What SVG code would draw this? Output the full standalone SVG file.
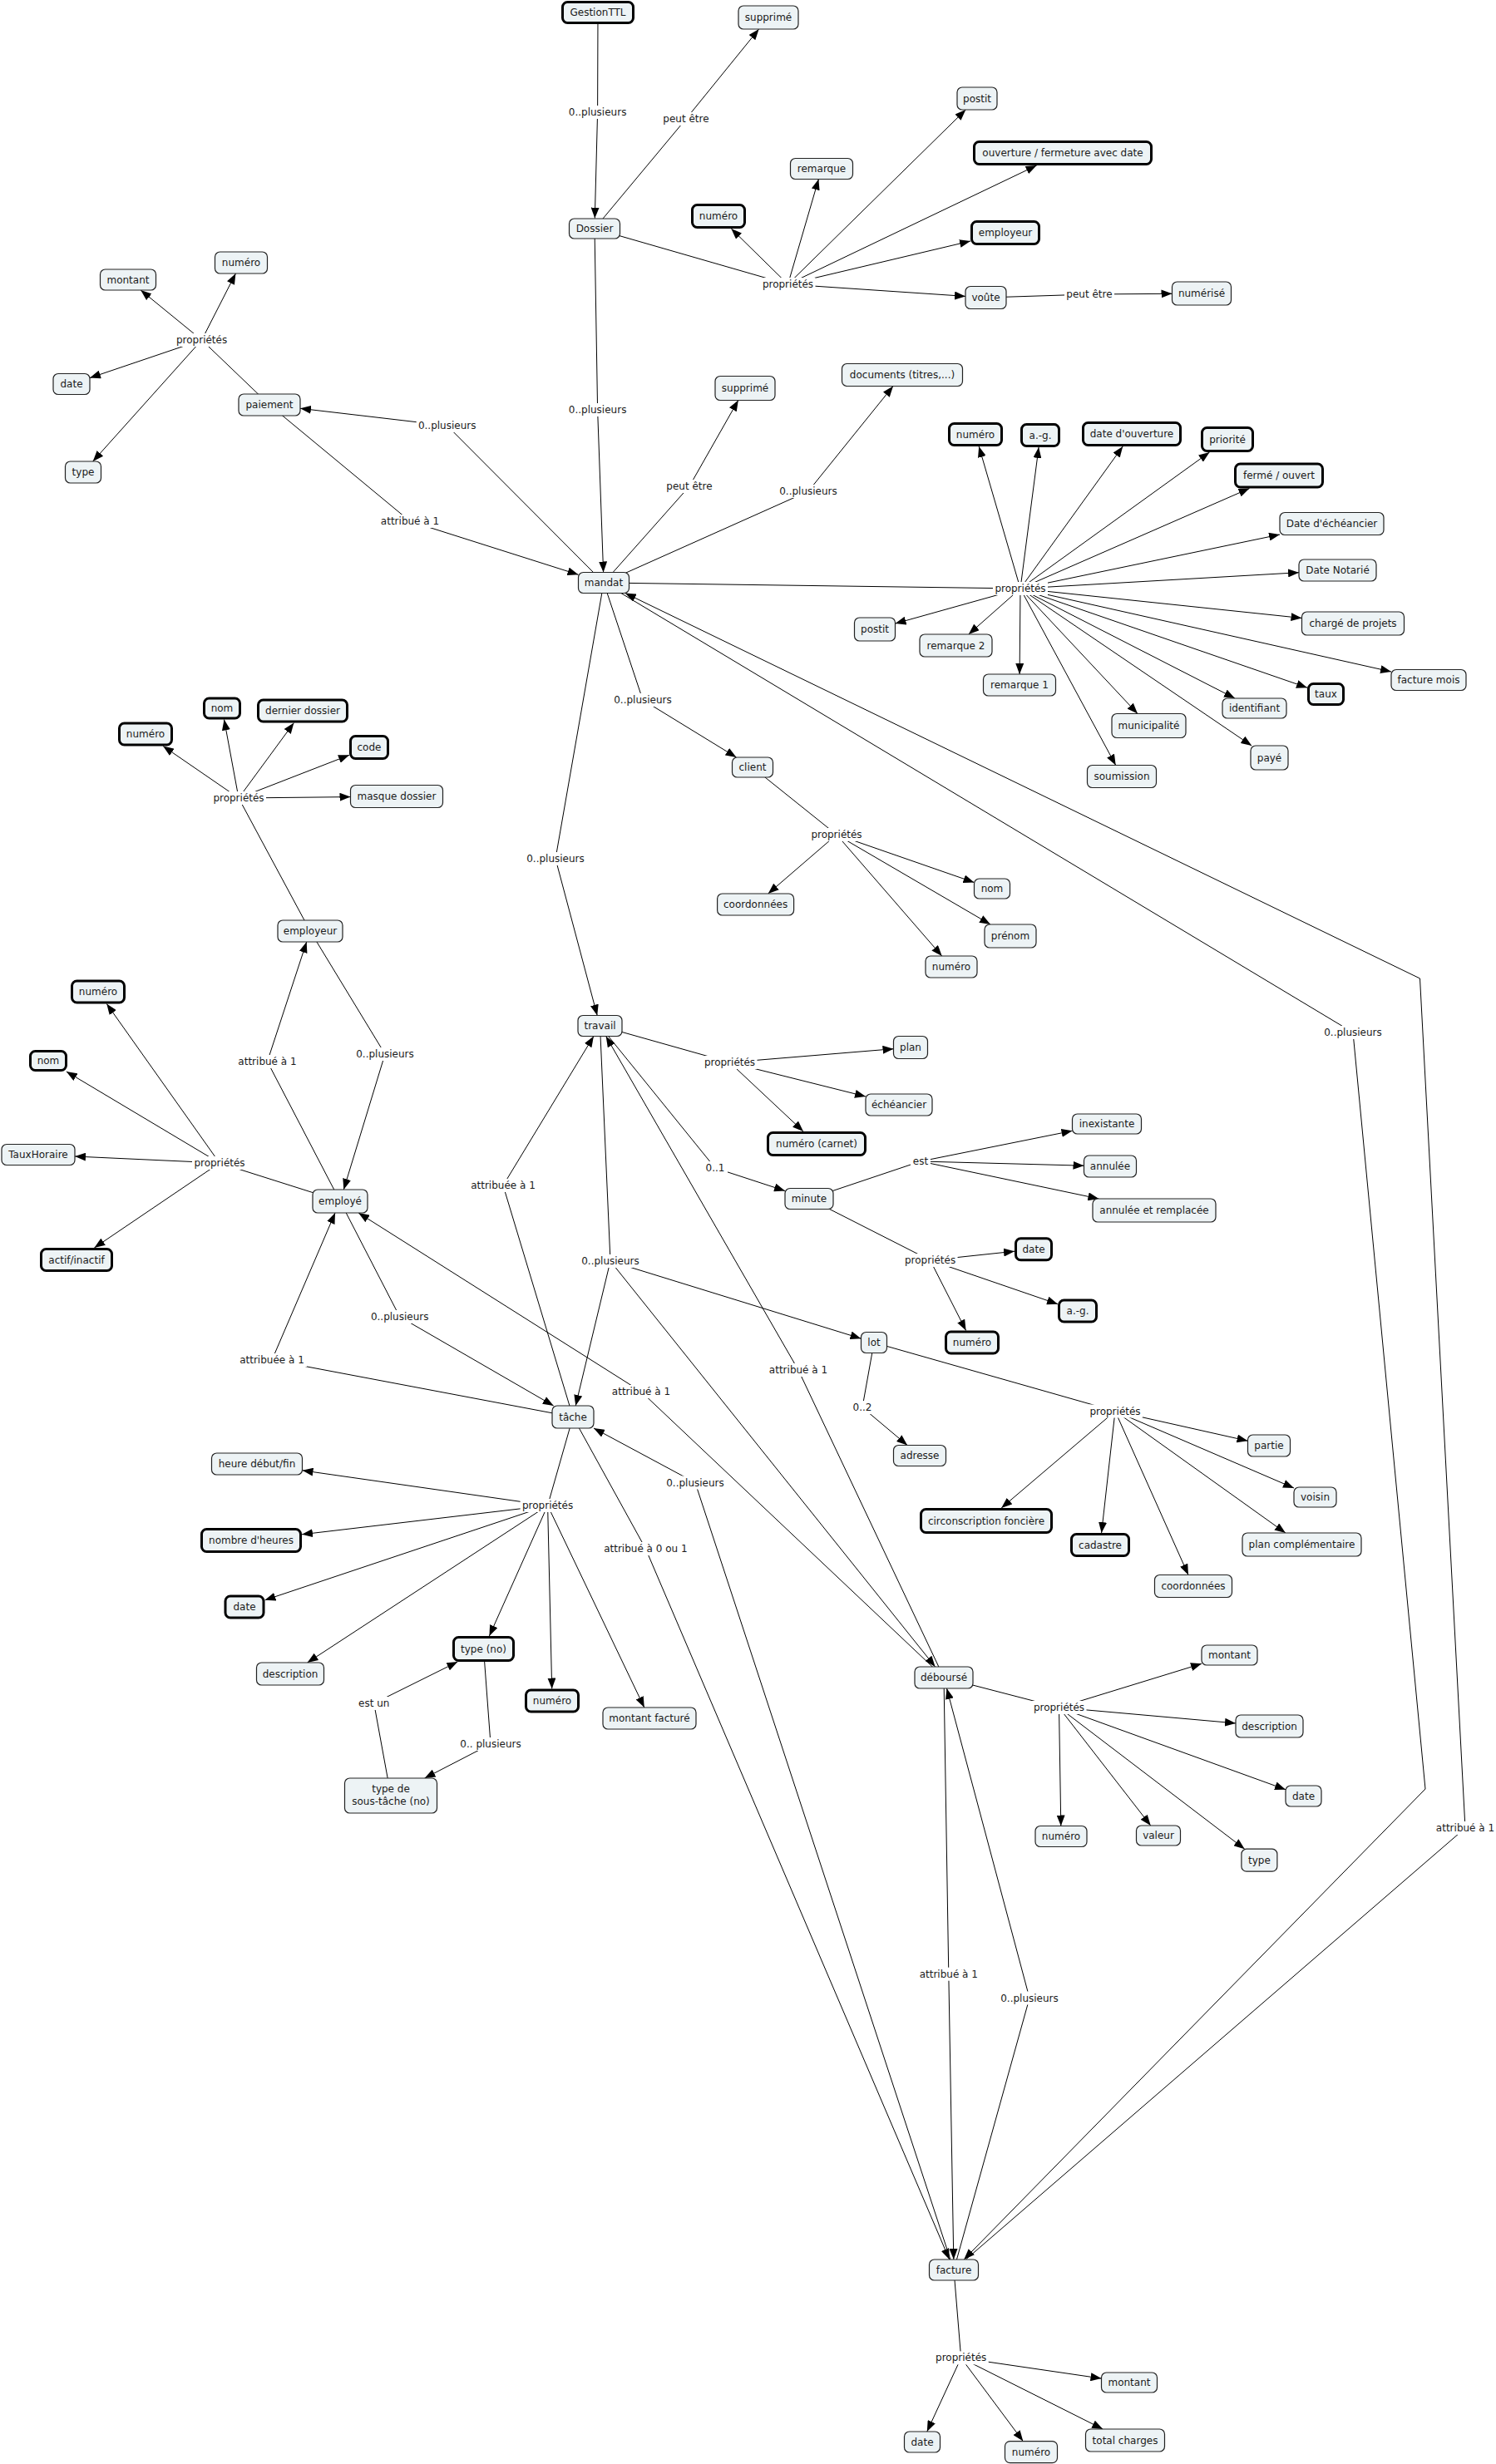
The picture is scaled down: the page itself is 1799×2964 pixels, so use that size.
<svg xmlns="http://www.w3.org/2000/svg" width="1799" height="2964" viewBox="0 0 1799 2964">
<defs>
<marker id="ah" markerUnits="userSpaceOnUse" markerWidth="13" markerHeight="10" viewBox="0 0 13 10" refX="13" refY="5" orient="auto"><path d="M0,0 L13,5 L0,10 z" fill="#000"/></marker>
<style>
.n rect{fill:#edf3f5;stroke:#222;stroke-width:1.2}
.n.k rect{stroke:#000;stroke-width:3}
text{font-family:"DejaVu Sans",Verdana,sans-serif;font-size:12px;fill:#1a1a1a;text-anchor:middle}
.c line,.c path{stroke:#000;stroke-width:1;fill:none}
.c .a{marker-end:url(#ah)}
.l rect{fill:#fff}
</style>
</defs>
<rect width="1799" height="2964" fill="#fff"/>
<g id="connectors" class="c">
<line x1="719" y1="15" x2="718.6" y2="135"/>
<line class="a" x1="718.6" y1="135" x2="715.3" y2="262.6"/>
<line x1="715" y1="275" x2="825" y2="143"/>
<line class="a" x1="825" y1="143" x2="912.6" y2="35"/>
<line x1="715" y1="275" x2="947.5" y2="342"/>
<line class="a" x1="947.5" y1="342" x2="879.3" y2="275"/>
<line class="a" x1="947.5" y1="342" x2="984.4" y2="215.5"/>
<line class="a" x1="947.5" y1="342" x2="1161.3" y2="132"/>
<line class="a" x1="947.5" y1="342" x2="1246.6" y2="199"/>
<line class="a" x1="947.5" y1="342" x2="1167" y2="290"/>
<line class="a" x1="947.5" y1="342" x2="1161" y2="356.4"/>
<line x1="1185.5" y1="358" x2="1310" y2="354"/>
<line class="a" x1="1310" y1="354" x2="1409.5" y2="353.3"/>
<line x1="715" y1="275" x2="718.6" y2="493"/>
<line class="a" x1="718.6" y1="493" x2="725.6" y2="688.5"/>
<line x1="726" y1="701" x2="829" y2="585"/>
<line class="a" x1="829" y1="585" x2="887.8" y2="481.5"/>
<line x1="726" y1="701" x2="972" y2="591"/>
<line class="a" x1="972" y1="591" x2="1074" y2="464.5"/>
<line x1="726" y1="701" x2="537.7" y2="512"/>
<line class="a" x1="537.7" y1="512" x2="361" y2="491.3"/>
<line x1="324" y1="487" x2="493" y2="627"/>
<line class="a" x1="493" y1="627" x2="695.5" y2="691.3"/>
<line x1="324" y1="487" x2="242.6" y2="409"/>
<line class="a" x1="242.6" y1="409" x2="169.2" y2="349"/>
<line class="a" x1="242.6" y1="409" x2="283.4" y2="329"/>
<line class="a" x1="242.6" y1="409" x2="108" y2="454.6"/>
<line class="a" x1="242.6" y1="409" x2="111.7" y2="555"/>
<line x1="726" y1="701" x2="1227" y2="708"/>
<line class="a" x1="1227" y1="708" x2="1177.2" y2="537"/>
<line class="a" x1="1227" y1="708" x2="1249.1" y2="538"/>
<line class="a" x1="1227" y1="708" x2="1350.2" y2="537"/>
<line class="a" x1="1227" y1="708" x2="1454.5" y2="544"/>
<line class="a" x1="1227" y1="708" x2="1502.5" y2="587.5"/>
<line class="a" x1="1227" y1="708" x2="1539" y2="643"/>
<line class="a" x1="1227" y1="708" x2="1562" y2="688.7"/>
<line class="a" x1="1227" y1="708" x2="1565.5" y2="743.5"/>
<line class="a" x1="1227" y1="708" x2="1673" y2="808"/>
<line class="a" x1="1227" y1="708" x2="1572" y2="827.2"/>
<line class="a" x1="1227" y1="708" x2="1485" y2="840"/>
<line class="a" x1="1227" y1="708" x2="1505.2" y2="897"/>
<line class="a" x1="1227" y1="708" x2="1368" y2="858.5"/>
<line class="a" x1="1227" y1="708" x2="1341.7" y2="920.5"/>
<line class="a" x1="1227" y1="708" x2="1226.1" y2="811"/>
<line class="a" x1="1227" y1="708" x2="1164.8" y2="763"/>
<line class="a" x1="1227" y1="708" x2="1076.5" y2="750.1"/>
<line x1="726" y1="701" x2="773" y2="842"/>
<line class="a" x1="773" y1="842" x2="885.5" y2="911"/>
<line x1="905" y1="923" x2="1006" y2="1004"/>
<line class="a" x1="1006" y1="1004" x2="923.7" y2="1075"/>
<line class="a" x1="1006" y1="1004" x2="1171.5" y2="1061.5"/>
<line class="a" x1="1006" y1="1004" x2="1191" y2="1112"/>
<line class="a" x1="1006" y1="1004" x2="1132.7" y2="1150"/>
<line x1="726" y1="701" x2="668" y2="1033"/>
<line class="a" x1="668" y1="1033" x2="718.2" y2="1221.5"/>
<line x1="726" y1="701" x2="1627" y2="1242"/>
<path class="a" d="M1627,1242 L1714,2152 L1159.2,2718"/>
<line x1="1147" y1="2730.5" x2="1762" y2="2199"/>
<path class="a" d="M1762,2199 L1707.5,1177 L751.8,713.5"/>
<line x1="373" y1="1120" x2="287" y2="960"/>
<line class="a" x1="287" y1="960" x2="196.1" y2="897.5"/>
<line class="a" x1="287" y1="960" x2="269.5" y2="865.5"/>
<line class="a" x1="287" y1="960" x2="353.4" y2="869.5"/>
<line class="a" x1="287" y1="960" x2="420" y2="908.3"/>
<line class="a" x1="287" y1="960" x2="421.5" y2="958.6"/>
<line x1="409" y1="1445" x2="321.5" y2="1277"/>
<line class="a" x1="321.5" y1="1277" x2="368.7" y2="1133"/>
<line x1="373" y1="1120" x2="463" y2="1268"/>
<line class="a" x1="463" y1="1268" x2="413.3" y2="1431"/>
<line x1="409" y1="1445" x2="264" y2="1399"/>
<line class="a" x1="264" y1="1399" x2="128.3" y2="1207.5"/>
<line class="a" x1="264" y1="1399" x2="79.8" y2="1289"/>
<line class="a" x1="264" y1="1399" x2="90" y2="1391"/>
<line class="a" x1="264" y1="1399" x2="113.4" y2="1501"/>
<line x1="721.5" y1="1234" x2="877.5" y2="1278"/>
<line class="a" x1="877.5" y1="1278" x2="1074.5" y2="1261.7"/>
<line class="a" x1="877.5" y1="1278" x2="1041" y2="1319"/>
<line class="a" x1="877.5" y1="1278" x2="966" y2="1361"/>
<line x1="721.5" y1="1234" x2="860" y2="1405"/>
<line class="a" x1="860" y1="1405" x2="944" y2="1432.5"/>
<line x1="973" y1="1442" x2="1107" y2="1397"/>
<line class="a" x1="1107" y1="1397" x2="1289.5" y2="1360.3"/>
<line class="a" x1="1107" y1="1397" x2="1303.5" y2="1402.2"/>
<line class="a" x1="1107" y1="1397" x2="1321.4" y2="1442"/>
<line x1="973" y1="1442" x2="1118.6" y2="1516"/>
<line class="a" x1="1118.6" y1="1516" x2="1220" y2="1505.2"/>
<line class="a" x1="1118.6" y1="1516" x2="1272" y2="1568.7"/>
<line class="a" x1="1118.6" y1="1516" x2="1161.6" y2="1600.5"/>
<line x1="721.5" y1="1234" x2="734" y2="1517"/>
<line class="a" x1="734" y1="1517" x2="692.2" y2="1691"/>
<line class="a" x1="734" y1="1517" x2="1035.5" y2="1610.2"/>
<line class="a" x1="734" y1="1517" x2="1124.6" y2="2005"/>
<line x1="689" y1="1704.5" x2="605" y2="1426"/>
<line class="a" x1="605" y1="1426" x2="713.9" y2="1246.5"/>
<line x1="409" y1="1445" x2="480.7" y2="1584"/>
<line class="a" x1="480.7" y1="1584" x2="665.7" y2="1691"/>
<line x1="689" y1="1704.5" x2="327" y2="1636"/>
<line class="a" x1="327" y1="1636" x2="403" y2="1459"/>
<line x1="1135" y1="2018" x2="771" y2="1674"/>
<line class="a" x1="771" y1="1674" x2="431.1" y2="1459"/>
<line x1="1135" y1="2018" x2="960" y2="1648"/>
<line class="a" x1="960" y1="1648" x2="728.7" y2="1246.5"/>
<line x1="1051" y1="1615" x2="1037" y2="1693"/>
<line class="a" x1="1037" y1="1693" x2="1091.1" y2="1738.5"/>
<line x1="1051" y1="1615" x2="1341" y2="1697.5"/>
<line class="a" x1="1341" y1="1697.5" x2="1204.2" y2="1814"/>
<line class="a" x1="1341" y1="1697.5" x2="1324.6" y2="1844"/>
<line class="a" x1="1341" y1="1697.5" x2="1429" y2="1894.5"/>
<line class="a" x1="1341" y1="1697.5" x2="1545.9" y2="1844"/>
<line class="a" x1="1341" y1="1697.5" x2="1556" y2="1790"/>
<line class="a" x1="1341" y1="1697.5" x2="1500.5" y2="1733.3"/>
<line x1="1147" y1="2730.5" x2="836" y2="1783.5"/>
<line class="a" x1="836" y1="1783.5" x2="714" y2="1718"/>
<line x1="689" y1="1704.5" x2="658.6" y2="1811"/>
<line class="a" x1="658.6" y1="1811" x2="363.5" y2="1768.8"/>
<line class="a" x1="658.6" y1="1811" x2="363" y2="1845.8"/>
<line class="a" x1="658.6" y1="1811" x2="318.5" y2="1924.8"/>
<line class="a" x1="658.6" y1="1811" x2="369.6" y2="2000"/>
<line class="a" x1="658.6" y1="1811" x2="588.4" y2="1968"/>
<line class="a" x1="658.6" y1="1811" x2="663.7" y2="2031.5"/>
<line class="a" x1="658.6" y1="1811" x2="774.8" y2="2054"/>
<line x1="689" y1="1704.5" x2="776.4" y2="1863"/>
<line class="a" x1="776.4" y1="1863" x2="1141.7" y2="2718"/>
<line x1="470" y1="2160" x2="449.7" y2="2049"/>
<line class="a" x1="449.7" y1="2049" x2="550.3" y2="1999"/>
<line x1="581.5" y1="1983.5" x2="590" y2="2098"/>
<line class="a" x1="590" y1="2098" x2="510.6" y2="2139"/>
<line x1="1135" y1="2018" x2="1273.5" y2="2054"/>
<line class="a" x1="1273.5" y1="2054" x2="1445" y2="2001.3"/>
<line class="a" x1="1273.5" y1="2054" x2="1486" y2="2072.9"/>
<line class="a" x1="1273.5" y1="2054" x2="1546" y2="2152.7"/>
<line class="a" x1="1273.5" y1="2054" x2="1275.8" y2="2196.5"/>
<line class="a" x1="1273.5" y1="2054" x2="1383.7" y2="2196"/>
<line class="a" x1="1273.5" y1="2054" x2="1496.7" y2="2224.2"/>
<line x1="1135" y1="2018" x2="1140.8" y2="2374.7"/>
<line class="a" x1="1140.8" y1="2374.7" x2="1146.8" y2="2718"/>
<line x1="1147" y1="2730.5" x2="1238" y2="2403.5"/>
<line class="a" x1="1238" y1="2403.5" x2="1138.5" y2="2031"/>
<line x1="1147" y1="2730.5" x2="1155.7" y2="2836.4"/>
<line class="a" x1="1155.7" y1="2836.4" x2="1114.8" y2="2925"/>
<line class="a" x1="1155.7" y1="2836.4" x2="1230.3" y2="2936.6"/>
<line class="a" x1="1155.7" y1="2836.4" x2="1326.2" y2="2922"/>
<line class="a" x1="1155.7" y1="2836.4" x2="1324.5" y2="2861.1"/>
</g>
<g id="labels" class="l">
<g><rect x="681.6" y="127" width="74" height="16"/><text x="718.6" y="139">0..plusieurs</text></g>
<g><rect x="795" y="135" width="60" height="16"/><text x="825" y="147">peut être</text></g>
<g><rect x="914.5" y="334" width="66" height="16"/><text x="947.5" y="346">propriétés</text></g>
<g><rect x="1280" y="346" width="60" height="16"/><text x="1310" y="358">peut être</text></g>
<g><rect x="681.6" y="485" width="74" height="16"/><text x="718.6" y="497">0..plusieurs</text></g>
<g><rect x="799" y="577" width="60" height="16"/><text x="829" y="589">peut être</text></g>
<g><rect x="935" y="583" width="74" height="16"/><text x="972" y="595">0..plusieurs</text></g>
<g><rect x="500.7" y="504" width="74" height="16"/><text x="537.7" y="516">0..plusieurs</text></g>
<g><rect x="455" y="619" width="76" height="16"/><text x="493" y="631">attribué à 1</text></g>
<g><rect x="209.6" y="401" width="66" height="16"/><text x="242.6" y="413">propriétés</text></g>
<g><rect x="1194" y="700" width="66" height="16"/><text x="1227" y="712">propriétés</text></g>
<g><rect x="736" y="834" width="74" height="16"/><text x="773" y="846">0..plusieurs</text></g>
<g><rect x="973" y="996" width="66" height="16"/><text x="1006" y="1008">propriétés</text></g>
<g><rect x="631" y="1025" width="74" height="16"/><text x="668" y="1037">0..plusieurs</text></g>
<g><rect x="1590" y="1234" width="74" height="16"/><text x="1627" y="1246">0..plusieurs</text></g>
<g><rect x="1724" y="2191" width="76" height="16"/><text x="1762" y="2203">attribué à 1</text></g>
<g><rect x="254" y="952" width="66" height="16"/><text x="287" y="964">propriétés</text></g>
<g><rect x="283.5" y="1269" width="76" height="16"/><text x="321.5" y="1281">attribué à 1</text></g>
<g><rect x="426" y="1260" width="74" height="16"/><text x="463" y="1272">0..plusieurs</text></g>
<g><rect x="231" y="1391" width="66" height="16"/><text x="264" y="1403">propriétés</text></g>
<g><rect x="844.5" y="1270" width="66" height="16"/><text x="877.5" y="1282">propriétés</text></g>
<g><rect x="845" y="1397" width="30" height="16"/><text x="860" y="1409">0..1</text></g>
<g><rect x="1095" y="1389" width="24" height="16"/><text x="1107" y="1401">est</text></g>
<g><rect x="1085.6" y="1508" width="66" height="16"/><text x="1118.6" y="1520">propriétés</text></g>
<g><rect x="697" y="1509" width="74" height="16"/><text x="734" y="1521">0..plusieurs</text></g>
<g><rect x="563" y="1418" width="84" height="16"/><text x="605" y="1430">attribuée à 1</text></g>
<g><rect x="443.7" y="1576" width="74" height="16"/><text x="480.7" y="1588">0..plusieurs</text></g>
<g><rect x="285" y="1628" width="84" height="16"/><text x="327" y="1640">attribuée à 1</text></g>
<g><rect x="733" y="1666" width="76" height="16"/><text x="771" y="1678">attribué à 1</text></g>
<g><rect x="922" y="1640" width="76" height="16"/><text x="960" y="1652">attribué à 1</text></g>
<g><rect x="1022" y="1685" width="30" height="16"/><text x="1037" y="1697">0..2</text></g>
<g><rect x="1308" y="1689.5" width="66" height="16"/><text x="1341" y="1701.5">propriétés</text></g>
<g><rect x="799" y="1775.5" width="74" height="16"/><text x="836" y="1787.5">0..plusieurs</text></g>
<g><rect x="625.6" y="1803" width="66" height="16"/><text x="658.6" y="1815">propriétés</text></g>
<g><rect x="723.4" y="1855" width="106" height="16"/><text x="776.4" y="1867">attribué à 0 ou 1</text></g>
<g><rect x="428.7" y="2041" width="42" height="16"/><text x="449.7" y="2053">est un</text></g>
<g><rect x="549" y="2090" width="82" height="16"/><text x="590" y="2102">0.. plusieurs</text></g>
<g><rect x="1240.5" y="2046" width="66" height="16"/><text x="1273.5" y="2058">propriétés</text></g>
<g><rect x="1102.8" y="2366.7" width="76" height="16"/><text x="1140.8" y="2378.7">attribué à 1</text></g>
<g><rect x="1201" y="2395.5" width="74" height="16"/><text x="1238" y="2407.5">0..plusieurs</text></g>
<g><rect x="1122.7" y="2828.4" width="66" height="16"/><text x="1155.7" y="2840.4">propriétés</text></g>
</g>
<g id="nodes">
<g id="n_gestion" class="n k"><rect x="676.5" y="2.5" width="85" height="25" rx="6"/><text x="719" y="19">GestionTTL</text></g>
<g id="n_supp1" class="n"><rect x="888" y="7" width="72" height="28" rx="6"/><text x="924" y="25">supprimé</text></g>
<g id="n_dossier" class="n"><rect x="684.5" y="263" width="61" height="24" rx="6"/><text x="715" y="279">Dossier</text></g>
<g id="n_num_d" class="n k"><rect x="832.5" y="246.5" width="63" height="27" rx="6"/><text x="864" y="264">numéro</text></g>
<g id="n_rem" class="n"><rect x="950.5" y="190.5" width="75" height="25" rx="6"/><text x="988" y="207">remarque</text></g>
<g id="n_postit_d" class="n"><rect x="1151" y="105" width="48" height="27" rx="6"/><text x="1175" y="122.5">postit</text></g>
<g id="n_ouv" class="n k"><rect x="1171.5" y="170.5" width="213" height="27" rx="6"/><text x="1278" y="188">ouverture / fermeture avec date</text></g>
<g id="n_empl_d" class="n k"><rect x="1168.5" y="266.5" width="81" height="27" rx="6"/><text x="1209" y="284">employeur</text></g>
<g id="n_voute" class="n"><rect x="1161" y="344.5" width="49" height="27" rx="6"/><text x="1185.5" y="362">voûte</text></g>
<g id="n_numerise" class="n"><rect x="1409.5" y="339" width="71" height="28" rx="6"/><text x="1445" y="357">numérisé</text></g>
<g id="n_supp2" class="n"><rect x="860" y="452.5" width="72" height="29" rx="6"/><text x="896" y="471">supprimé</text></g>
<g id="n_docs" class="n"><rect x="1012.5" y="437.5" width="145" height="27" rx="6"/><text x="1085" y="455">documents (titres,...)</text></g>
<g id="n_mandat" class="n"><rect x="695.5" y="688.5" width="61" height="25" rx="6"/><text x="726" y="705">mandat</text></g>
<g id="n_num_m" class="n k"><rect x="1141.5" y="509.5" width="63" height="26" rx="6"/><text x="1173" y="526.5">numéro</text></g>
<g id="n_ag_m" class="n k"><rect x="1228.5" y="510.5" width="45" height="26" rx="6"/><text x="1251" y="527.5">a.-g.</text></g>
<g id="n_dateouv" class="n k"><rect x="1302.5" y="508.5" width="117" height="27" rx="6"/><text x="1361" y="526">date d'ouverture</text></g>
<g id="n_prio" class="n k"><rect x="1445.5" y="514.5" width="61" height="28" rx="6"/><text x="1476" y="532.5">priorité</text></g>
<g id="n_ferme" class="n k"><rect x="1485.5" y="558" width="105" height="28" rx="6"/><text x="1538" y="576">fermé / ouvert</text></g>
<g id="n_dech" class="n"><rect x="1539" y="616.5" width="125" height="27" rx="6"/><text x="1601.5" y="634">Date d'échéancier</text></g>
<g id="n_dnot" class="n"><rect x="1562" y="673" width="93" height="26" rx="6"/><text x="1608.5" y="690">Date Notarié</text></g>
<g id="n_charge" class="n"><rect x="1565.5" y="736" width="123" height="28" rx="6"/><text x="1627" y="754">chargé de projets</text></g>
<g id="n_facmois" class="n"><rect x="1673" y="805.5" width="90" height="25" rx="6"/><text x="1718" y="822">facture mois</text></g>
<g id="n_taux" class="n k"><rect x="1573.5" y="822.5" width="42" height="25" rx="6"/><text x="1594.5" y="839">taux</text></g>
<g id="n_ident" class="n"><rect x="1470" y="840" width="77" height="24" rx="6"/><text x="1508.5" y="856">identifiant</text></g>
<g id="n_munic" class="n"><rect x="1337" y="858.5" width="89" height="29" rx="6"/><text x="1381.5" y="877">municipalité</text></g>
<g id="n_paye" class="n"><rect x="1504" y="897" width="45" height="29" rx="6"/><text x="1526.5" y="915.5">payé</text></g>
<g id="n_soum" class="n"><rect x="1307.5" y="920.5" width="83" height="27" rx="6"/><text x="1349" y="938">soumission</text></g>
<g id="n_rem1" class="n"><rect x="1182.5" y="811" width="87" height="26" rx="6"/><text x="1226" y="828">remarque 1</text></g>
<g id="n_rem2" class="n"><rect x="1106" y="763" width="87" height="27" rx="6"/><text x="1149.5" y="780.5">remarque 2</text></g>
<g id="n_postit_m" class="n"><rect x="1027.5" y="743" width="49" height="28" rx="6"/><text x="1052" y="761">postit</text></g>
<g id="n_paiement" class="n"><rect x="287" y="474" width="74" height="26" rx="6"/><text x="324" y="491">paiement</text></g>
<g id="n_montant_p" class="n"><rect x="120.5" y="324" width="67" height="25" rx="6"/><text x="154" y="340.5">montant</text></g>
<g id="n_num_p" class="n"><rect x="258.5" y="303" width="63" height="26" rx="6"/><text x="290" y="320">numéro</text></g>
<g id="n_date_p" class="n"><rect x="64" y="449.5" width="44" height="25" rx="6"/><text x="86" y="466">date</text></g>
<g id="n_type_p" class="n"><rect x="78.5" y="555" width="43" height="26" rx="6"/><text x="100" y="572">type</text></g>
<g id="n_employeur" class="n"><rect x="334" y="1107" width="78" height="26" rx="6"/><text x="373" y="1124">employeur</text></g>
<g id="n_num_e" class="n k"><rect x="143.5" y="870" width="63" height="26" rx="6"/><text x="175" y="887">numéro</text></g>
<g id="n_nom_e" class="n k"><rect x="245.5" y="840" width="43" height="24" rx="6"/><text x="267" y="856">nom</text></g>
<g id="n_dernier" class="n k"><rect x="310.5" y="842" width="107" height="26" rx="6"/><text x="364" y="859">dernier dossier</text></g>
<g id="n_code" class="n k"><rect x="421.5" y="885.5" width="45" height="27" rx="6"/><text x="444" y="903">code</text></g>
<g id="n_masque" class="n"><rect x="421.5" y="944.5" width="111" height="27" rx="6"/><text x="477" y="962">masque dossier</text></g>
<g id="n_employe" class="n"><rect x="376" y="1431" width="66" height="28" rx="6"/><text x="409" y="1449">employé</text></g>
<g id="n_num_y" class="n k"><rect x="86.5" y="1180" width="63" height="26" rx="6"/><text x="118" y="1197">numéro</text></g>
<g id="n_nom_y" class="n k"><rect x="36.5" y="1264.5" width="43" height="23" rx="6"/><text x="58" y="1280">nom</text></g>
<g id="n_taux_h" class="n"><rect x="2" y="1376.5" width="88" height="25" rx="6"/><text x="46" y="1393">TauxHoraire</text></g>
<g id="n_actif" class="n k"><rect x="49.5" y="1502.5" width="85" height="26" rx="6"/><text x="92" y="1519.5">actif/inactif</text></g>
<g id="n_client" class="n"><rect x="880.5" y="911" width="49" height="24" rx="6"/><text x="905" y="927">client</text></g>
<g id="n_coord_c" class="n"><rect x="862.6" y="1075" width="92" height="26" rx="6"/><text x="908.6" y="1092">coordonnées</text></g>
<g id="n_nom_c" class="n"><rect x="1171.5" y="1057" width="43" height="24" rx="6"/><text x="1193" y="1073">nom</text></g>
<g id="n_prenom" class="n"><rect x="1184" y="1112" width="62" height="28" rx="6"/><text x="1215" y="1130">prénom</text></g>
<g id="n_num_c" class="n"><rect x="1113" y="1150" width="62" height="26" rx="6"/><text x="1144" y="1167">numéro</text></g>
<g id="n_travail" class="n"><rect x="695" y="1221.5" width="53" height="25" rx="6"/><text x="721.5" y="1238">travail</text></g>
<g id="n_plan" class="n"><rect x="1074.5" y="1246.5" width="41" height="27" rx="6"/><text x="1095" y="1264">plan</text></g>
<g id="n_echeancier" class="n"><rect x="1041" y="1316" width="80" height="26" rx="6"/><text x="1081" y="1333">échéancier</text></g>
<g id="n_carnet" class="n k"><rect x="923.5" y="1362.5" width="117" height="27" rx="6"/><text x="982" y="1380">numéro (carnet)</text></g>
<g id="n_minute" class="n"><rect x="944" y="1429.5" width="58" height="25" rx="6"/><text x="973" y="1446">minute</text></g>
<g id="n_inex" class="n"><rect x="1289.5" y="1340" width="83" height="24" rx="6"/><text x="1331" y="1356">inexistante</text></g>
<g id="n_annulee" class="n"><rect x="1303.5" y="1390" width="63" height="26" rx="6"/><text x="1335" y="1407">annulée</text></g>
<g id="n_annrem" class="n"><rect x="1314" y="1442" width="148" height="28" rx="6"/><text x="1388" y="1460">annulée et remplacée</text></g>
<g id="n_date_min" class="n k"><rect x="1221.5" y="1489.7" width="43" height="26" rx="6"/><text x="1243" y="1506.7">date</text></g>
<g id="n_ag_min" class="n k"><rect x="1273.5" y="1564" width="45" height="26" rx="6"/><text x="1296" y="1581">a.-g.</text></g>
<g id="n_num_min" class="n k"><rect x="1137.5" y="1602" width="63" height="26" rx="6"/><text x="1169" y="1619">numéro</text></g>
<g id="n_lot" class="n"><rect x="1035.5" y="1602.5" width="31" height="25" rx="6"/><text x="1051" y="1619">lot</text></g>
<g id="n_adresse" class="n"><rect x="1074.5" y="1738.5" width="63" height="25" rx="6"/><text x="1106" y="1755">adresse</text></g>
<g id="n_circ" class="n k"><rect x="1107.5" y="1815.5" width="157" height="28" rx="6"/><text x="1186" y="1833.5">circonscription foncière</text></g>
<g id="n_cadastre" class="n k"><rect x="1288.5" y="1845.5" width="69" height="26" rx="6"/><text x="1323" y="1862.5">cadastre</text></g>
<g id="n_coord_l" class="n"><rect x="1388.5" y="1894.5" width="93" height="27" rx="6"/><text x="1435" y="1912">coordonnées</text></g>
<g id="n_plancomp" class="n"><rect x="1494" y="1844" width="143" height="28" rx="6"/><text x="1565.5" y="1862">plan complémentaire</text></g>
<g id="n_voisin" class="n"><rect x="1556" y="1789" width="51" height="24" rx="6"/><text x="1581.5" y="1805">voisin</text></g>
<g id="n_partie" class="n"><rect x="1500.5" y="1726" width="51" height="26" rx="6"/><text x="1526" y="1743">partie</text></g>
<g id="n_tache" class="n"><rect x="664" y="1691" width="50" height="27" rx="6"/><text x="689" y="1708.5">tâche</text></g>
<g id="n_heure" class="n"><rect x="254.5" y="1748" width="109" height="26" rx="6"/><text x="309" y="1765">heure début/fin</text></g>
<g id="n_nbheures" class="n k"><rect x="242.5" y="1839.5" width="119" height="27" rx="6"/><text x="302" y="1857">nombre d'heures</text></g>
<g id="n_date_t" class="n k"><rect x="271" y="1920" width="46" height="26" rx="6"/><text x="294" y="1937">date</text></g>
<g id="n_desc_t" class="n"><rect x="308.5" y="2000" width="81" height="27" rx="6"/><text x="349" y="2017.5">description</text></g>
<g id="n_typeno" class="n k"><rect x="545.5" y="1969.5" width="72" height="28" rx="6"/><text x="581.5" y="1987.5">type (no)</text></g>
<g id="n_num_t" class="n k"><rect x="632.5" y="2033" width="63" height="26" rx="6"/><text x="664" y="2050">numéro</text></g>
<g id="n_montfact" class="n"><rect x="725" y="2054" width="112" height="26" rx="6"/><text x="781" y="2071">montant facturé</text></g>
<g id="n_soustache" class="n"><rect x="414.5" y="2139" width="111" height="42" rx="6"/><text x="470" y="2156">type de</text><text x="470" y="2171">sous-tâche (no)</text></g>
<g id="n_debourse" class="n"><rect x="1100" y="2005" width="70" height="26" rx="6"/><text x="1135" y="2022">déboursé</text></g>
<g id="n_montant_d" class="n"><rect x="1445" y="1979" width="67" height="24" rx="6"/><text x="1478.5" y="1995">montant</text></g>
<g id="n_desc_d" class="n"><rect x="1486" y="2063" width="81" height="27" rx="6"/><text x="1526.5" y="2080.5">description</text></g>
<g id="n_date_d" class="n"><rect x="1546" y="2148" width="43" height="25" rx="6"/><text x="1567.5" y="2164.5">date</text></g>
<g id="n_num_d2" class="n"><rect x="1245" y="2196.5" width="62" height="25" rx="6"/><text x="1276" y="2213">numéro</text></g>
<g id="n_valeur" class="n"><rect x="1366.5" y="2196" width="53" height="24" rx="6"/><text x="1393" y="2212">valeur</text></g>
<g id="n_type_d" class="n"><rect x="1492.9" y="2224.2" width="43" height="27" rx="6"/><text x="1514.4" y="2241.7">type</text></g>
<g id="n_facture" class="n"><rect x="1117.5" y="2718" width="59" height="25" rx="6"/><text x="1147" y="2734.5">facture</text></g>
<g id="n_date_f" class="n"><rect x="1087.5" y="2925" width="43" height="25" rx="6"/><text x="1109" y="2941.5">date</text></g>
<g id="n_num_f" class="n"><rect x="1208.5" y="2936.6" width="63" height="26" rx="6"/><text x="1240" y="2953.6">numéro</text></g>
<g id="n_total" class="n"><rect x="1305.5" y="2922" width="95" height="27" rx="6"/><text x="1353" y="2939.5">total charges</text></g>
<g id="n_montant_f" class="n"><rect x="1324.5" y="2854" width="67" height="24" rx="6"/><text x="1358" y="2870">montant</text></g>
</g>
</svg>
